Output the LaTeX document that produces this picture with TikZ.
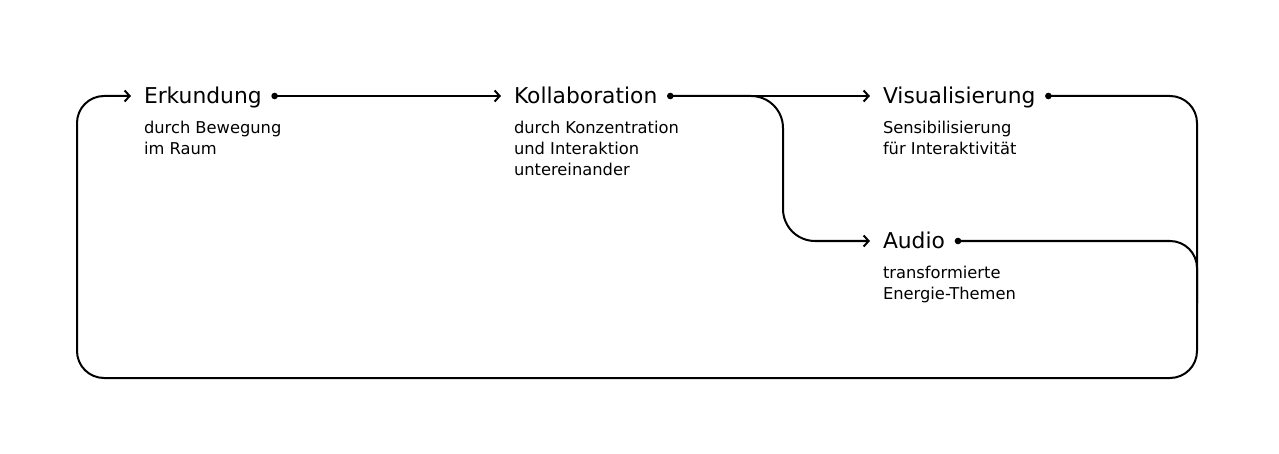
\documentclass[tikz,border=0pt]{standalone}
\usepackage{fontspec}
\setmainfont{DejaVu Sans}
\usetikzlibrary{positioning,arrows.meta}

\begin{document}
\begin{tikzpicture}[x=1pt, y=1pt, line width=2pt]
  \tikzstyle{title} = [anchor=west, inner xsep=12pt, inner ysep=0pt,
    text height=15.9pt, text depth=0pt, font=\fontsize{21.8}{26}\selectfont]
  \tikzstyle{note} = [inner xsep=12pt, inner ysep=0pt, align=left,
    font=\fontsize{16.3}{21}\selectfont]
  \tikzstyle{line} = [draw, -{Straight Barb[length=5pt,width=11pt]}, rounded corners=27pt]

  \useasboundingbox (0,0) rectangle (1279,453);

  % Place nodes
  \node [title] (erk) at (131,357) {Erkundung};
  \node [note, below=15pt of erk.south west, anchor=north west] (erknote) {durch Bewegung\\im Raum};
  \node [title] (kol) at (501,357) {Kollaboration};
  \node [note, below=15pt of kol.south west, anchor=north west] (kolnote) {durch Konzentration\\und Interaktion\\untereinander};
  \node [title] (vis) at (870,357) {Visualisierung};
  \node [note, below=15pt of vis.south west, anchor=north west] (visnote) {Sensibilisierung\\für Interaktivität};
  \node [title] (aud) at (870,212) {Audio};
  \node [note, below=15pt of aud.south west, anchor=north west] (audnote) {transformierte\\Energie-Themen};

  \coordinate (fork) at (783,357);
  \coordinate (ne) at (1197,357);
  \coordinate (se) at (1197,75);
  \coordinate (sw) at (77,75);
  \coordinate (nw) at (77,357);
  \coordinate (join) at (1197,212);
  \coordinate (merge) at (1197,150);

  % Draw edges
  \path [line] (erk.east) -- (kol.west);
  \path [line] (kol.east) -- (vis.west);
  \path [line, rounded corners=32pt] (kol.east) -- (fork) |- (aud.west);
  \path [line] (vis.east) -- (ne) -- (se) -- (sw) -- (nw) -- (erk.west);
  \draw [rounded corners=27pt] (aud.east) -- (join) -- (merge);

  % Dots
  \foreach \n in {erk,kol,vis,aud}
    \fill (\n.east) circle (3.3pt);
\end{tikzpicture}
\end{document}
